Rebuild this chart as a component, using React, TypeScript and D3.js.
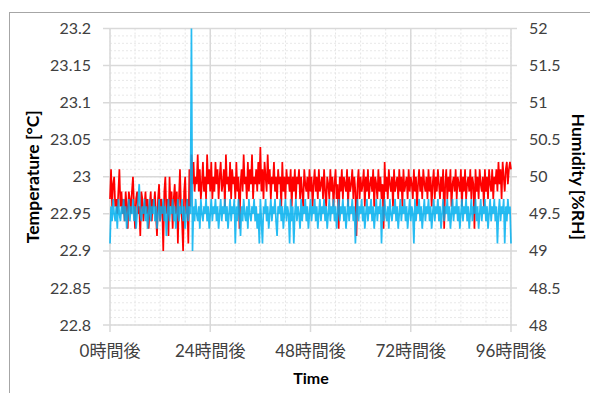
import React from "react";
import * as d3 from "d3";

// readings every 15 minutes, 0h .. 96h
const stepHours = 0.25;

const temperature = [
  22.97, 23.01, 22.96, 22.99, 23.0, 22.96, 22.97, 22.95, 22.98, 23.01, 22.96, 22.98, 22.95, 22.97, 22.94, 22.98, 22.96, 22.93, 22.98, 22.97,
  22.95, 22.98, 23.0, 22.96, 22.93, 22.97, 22.98, 22.95, 22.96, 22.92, 22.98, 22.97, 22.94, 22.96, 22.98, 22.95, 22.97, 22.93, 22.96, 22.98,
  22.94, 22.97, 22.96, 22.98, 22.95, 22.92, 22.97, 22.99, 22.94, 22.97, 22.96, 22.9, 22.98, 23.0, 22.95, 22.97, 22.92, 23.0, 22.96, 22.98,
  22.93, 22.97, 22.99, 22.95, 22.98, 22.91, 22.97, 23.01, 22.96, 22.94, 22.9, 22.98, 23.0, 22.95, 22.97, 22.91, 23.01, 22.96, 23.03, 22.99,
  23.02, 22.98, 23.0, 22.99, 23.03, 22.98, 23.01, 22.97, 22.99, 23.02, 22.98, 23.0, 22.97, 23.03, 22.99, 23.01, 22.98, 23.02, 22.97, 23.0,
  22.98, 23.02, 22.99, 23.01, 22.97, 23.0, 23.02, 22.98, 22.99, 23.01, 22.96, 23.03, 22.99, 23.0, 22.98, 23.02, 22.97, 23.01, 22.99, 23.0,
  22.97, 23.02, 22.98, 23.0, 22.93, 22.99, 23.01, 22.98, 23.03, 22.99, 23.0, 22.97, 23.02, 22.98, 23.01, 22.99, 23.03, 22.97, 23.0, 22.99,
  23.01, 22.98, 23.02, 22.99, 23.04, 22.98, 23.01, 22.97, 23.02, 23.0, 22.98, 23.03, 22.99, 23.01, 22.97, 23.0, 22.99, 23.02, 22.98, 23.0,
  22.97, 23.01, 22.99, 23.0, 22.96, 23.02, 22.98, 23.0, 22.97, 23.01, 22.99, 23.0, 22.98, 23.01, 22.96, 23.0, 22.98, 23.01, 22.97, 23.0,
  22.99, 23.01, 22.97, 23.0, 22.98, 22.96, 23.01, 22.99, 22.98, 23.0, 22.97, 23.01, 22.98, 23.0, 22.96, 22.99, 23.01, 22.98, 23.0, 22.97,
  23.01, 22.98, 22.99, 23.0, 22.97, 23.01, 22.98, 22.96, 23.0, 22.99, 22.97, 23.01, 22.98, 23.0, 22.96, 22.99, 23.01, 22.97, 22.99, 22.93,
  23.0, 22.98, 23.01, 22.97, 23.0, 22.99, 22.98, 23.01, 22.96, 23.0, 22.98, 22.99, 23.01, 22.97, 23.0, 22.98, 22.92, 22.99, 23.01, 22.97,
  23.0, 22.98, 22.99, 23.01, 22.96, 23.0, 22.98, 23.01, 22.97, 22.99, 23.0, 22.98, 23.01, 22.96, 23.0, 22.99, 22.97, 23.01, 22.98, 23.0,
  22.97, 22.99, 22.93, 23.02, 22.98, 23.0, 22.97, 23.01, 22.99, 22.98, 23.0, 22.96, 23.01, 22.98, 22.99, 23.0, 22.97, 23.01, 22.98, 23.0,
  22.96, 23.01, 22.98, 22.99, 23.0, 22.97, 23.01, 22.98, 23.0, 22.99, 22.97, 23.01, 22.98, 23.0, 22.96, 22.99, 23.01, 22.98, 23.0, 22.97,
  23.01, 22.99, 22.98, 23.0, 22.97, 23.01, 22.98, 23.0, 22.96, 22.99, 23.01, 22.97, 23.0, 22.98, 23.01, 22.99, 22.97, 23.0, 22.98, 23.01,
  22.93, 22.99, 23.01, 22.97, 23.0, 22.98, 23.01, 22.96, 22.99, 23.0, 22.98, 23.01, 22.97, 23.0, 22.99, 22.98, 23.01, 22.96, 23.0, 22.98,
  23.01, 22.97, 22.99, 23.0, 22.98, 23.01, 22.97, 23.0, 22.99, 22.93, 23.01, 22.98, 23.0, 22.97, 23.01, 22.99, 22.98, 23.0, 22.96, 23.01,
  22.98, 23.0, 22.97, 23.01, 22.99, 22.98, 23.01, 22.97, 23.0, 22.99, 23.01, 22.98, 23.02, 22.99, 23.01, 22.97, 23.02, 23.0, 22.98, 23.01,
  23.02, 22.99, 23.01, 23.02, 23.01,
];

const humidity = [
  49.1, 49.6, 49.4, 49.7, 49.5, 49.4, 49.6, 49.3, 49.7, 49.5, 49.4, 49.6, 49.5, 49.7, 49.4, 49.6, 49.3, 49.5, 49.7, 49.4,
  49.6, 49.5, 49.7, 49.4, 49.6, 49.3, 49.5, 49.7, 49.9, 49.5, 49.4, 49.6, 49.5, 49.7, 49.4, 49.6, 49.3, 49.5, 49.7, 49.4,
  49.6, 49.5, 49.7, 49.4, 49.6, 49.3, 49.5, 49.7, 49.4, 49.6, 49.5, 49.7, 49.4, 49.6, 49.2, 49.5, 49.7, 49.4, 49.6, 49.5,
  49.7, 49.4, 49.6, 49.3, 49.5, 49.7, 49.4, 49.6, 49.5, 49.7, 49.4, 49.6, 49.3, 49.5, 49.7, 49.4, 49.6, 49.5, 52.0, 49.0,
  49.6, 49.4, 49.7, 49.5, 49.4, 49.6, 49.3, 49.7, 49.5, 49.4, 49.6, 49.5, 49.7, 49.4, 49.6, 49.3, 49.5, 49.7, 49.4, 49.6,
  49.5, 49.7, 49.4, 49.6, 49.3, 49.5, 49.7, 49.4, 49.6, 49.5, 49.7, 49.4, 49.6, 49.3, 49.5, 49.7, 49.4, 49.6, 49.5, 49.7,
  49.1, 49.6, 49.4, 49.7, 49.5, 49.2, 49.6, 49.4, 49.7, 49.5, 49.4, 49.6, 49.3, 49.7, 49.5, 49.4, 49.6, 49.5, 49.7, 49.4,
  49.6, 49.3, 49.5, 49.1, 49.7, 49.4, 49.1, 49.6, 49.5, 49.7, 49.4, 49.6, 49.3, 49.5, 49.7, 49.4, 49.6, 49.5, 49.7, 49.4,
  49.2, 49.6, 49.5, 49.7, 49.4, 49.6, 49.3, 49.5, 49.7, 49.4, 49.6, 49.5, 49.1, 49.7, 49.4, 49.6, 49.1, 49.5, 49.7, 49.4,
  49.6, 49.5, 49.3, 49.7, 49.4, 49.6, 49.5, 49.7, 49.4, 49.6, 49.3, 49.5, 49.7, 49.4, 49.6, 49.5, 49.7, 49.4, 49.6, 49.3,
  49.5, 49.7, 49.4, 49.6, 49.5, 49.7, 49.4, 49.6, 49.3, 49.5, 49.7, 49.4, 49.6, 49.5, 49.7, 49.4, 49.6, 49.3, 49.5, 49.7,
  49.4, 49.6, 49.5, 49.7, 49.4, 49.6, 49.3, 49.5, 49.7, 49.4, 49.6, 49.5, 49.7, 49.4, 49.6, 49.1, 49.5, 49.7, 49.4, 49.6,
  49.5, 49.7, 49.4, 49.6, 49.3, 49.5, 49.7, 49.4, 49.6, 49.5, 49.7, 49.4, 49.6, 49.3, 49.5, 49.7, 49.4, 49.6, 49.5, 49.7,
  49.1, 49.6, 49.4, 49.7, 49.5, 49.4, 49.6, 49.3, 49.7, 49.5, 49.4, 49.6, 49.5, 49.7, 49.4, 49.6, 49.3, 49.5, 49.7, 49.4,
  49.6, 49.5, 49.7, 49.4, 49.6, 49.3, 49.5, 49.7, 49.4, 49.6, 49.5, 49.1, 49.7, 49.4, 49.6, 49.5, 49.7, 49.4, 49.6, 49.3,
  49.5, 49.7, 49.4, 49.6, 49.5, 49.7, 49.4, 49.6, 49.3, 49.5, 49.7, 49.4, 49.6, 49.5, 49.7, 49.4, 49.6, 49.3, 49.5, 49.7,
  49.4, 49.6, 49.5, 49.7, 49.4, 49.6, 49.3, 49.5, 49.7, 49.4, 49.6, 49.5, 49.7, 49.4, 49.6, 49.3, 49.5, 49.7, 49.4, 49.6,
  49.5, 49.7, 49.4, 49.6, 49.3, 49.5, 49.7, 49.4, 49.6, 49.5, 49.7, 49.4, 49.6, 49.3, 49.5, 49.7, 49.4, 49.6, 49.5, 49.7,
  49.4, 49.6, 49.3, 49.5, 49.7, 49.4, 49.6, 49.5, 49.7, 49.4, 49.6, 49.1, 49.5, 49.7, 49.4, 49.6, 49.5, 49.7, 49.1, 49.6,
  49.4, 49.7, 49.5, 49.6, 49.1,
];

const xTicks = [0, 24, 48, 72, 96];
const xTickLabels = ["0時間後", "24時間後", "48時間後", "72時間後", "96時間後"];
const tempTicks = [22.8, 22.85, 22.9, 22.95, 23, 23.05, 23.1, 23.15, 23.2];
const humTicks = [48, 48.5, 49, 49.5, 50, 50.5, 51, 51.5, 52];

const font = "Lato, 'Noto Sans CJK JP', sans-serif";
const textColor = "#404040";

const App = () => {
  const width = 590;
  const height = 393;

  const x = d3.scaleLinear().domain([0, 96]).range([110, 511]);
  const yT = d3.scaleLinear().domain([22.8, 23.2]).range([325, 28.5]);
  const yH = d3.scaleLinear().domain([48, 52]).range([325, 28.5]);

  const tempLine = d3.line<number>().x((_, i) => x(i * stepHours)).y(d => yT(d));
  const humLine = d3.line<number>().x((_, i) => x(i * stepHours)).y(d => yH(d));

  // minor grid: every 0.01 degC and every 6 hours
  const minorY = d3.range(0, 41).map(k => 22.8 + k * 0.01);
  const minorX = d3.range(0, 17).map(k => k * 6);

  return (
    <svg width={width} height={height} style={{position: "absolute", left: 0, top: 0}}>
      <rect x={0} y={0} width={width} height={height} fill="#fff"/>
      <rect x={9.5} y={12.5} width={700} height={500} fill="none" stroke="#a6a6a6"/>

      {minorY.map((v, i) => (
        <line key={"my" + i} x1={x(0)} x2={x(96)} y1={yT(v)} y2={yT(v)}
              stroke="#e8e8e8" strokeDasharray="2,2"/>
      ))}
      {minorX.map((v, i) => (
        <line key={"mx" + i} x1={x(v)} x2={x(v)} y1={yT(23.2)} y2={yT(22.8)}
              stroke="#e4e4e4" strokeDasharray="2,2"/>
      ))}
      {tempTicks.map((t, i) => (
        <line key={"gy" + i} x1={x(0) - 7} x2={x(96) + 6} y1={yT(t)} y2={yT(t)}
              stroke="#d9d9d9" strokeWidth={1.5}/>
      ))}
      {xTicks.map((t, i) => (
        <line key={"gx" + i} x1={x(t)} x2={x(t)} y1={yT(23.2)} y2={yT(22.8) + 7}
              stroke="#d9d9d9" strokeWidth={1.5}/>
      ))}

      <path d={tempLine(temperature) || ""} fill="none" stroke="#ff0000" strokeWidth={1.7} strokeLinejoin="bevel"/>
      <path d={humLine(humidity) || ""} fill="none" stroke="#00b0f0" strokeWidth={1.7} strokeOpacity={0.85} strokeLinejoin="bevel"/>

      <g fontFamily={font} fontSize={16} fill={textColor}>
        {tempTicks.map((t, i) => (
          <text key={"tl" + i} x={91} y={yT(t)} dy="0.35em" textAnchor="end">{t}</text>
        ))}
        {humTicks.map((t, i) => (
          <text key={"hl" + i} x={529} y={yH(t)} dy="0.35em">{t}</text>
        ))}
        {xTicks.map((t, i) => (
          <text key={"xl" + i} x={x(t)} y={351} dy="0.35em" textAnchor="middle" fontSize={17}>
            {xTickLabels[i]}
          </text>
        ))}
      </g>

      <g fontFamily={font} fontWeight="bold" fill="#000">
        <text x={311} y={378} dy="0.35em" textAnchor="middle" fontSize={16}>Time</text>
        <text transform={`translate(33, ${yT(23)}) rotate(-90)`} dy="0.35em" textAnchor="middle" fontSize={17.5}>
          Temperature [°C]
        </text>
        <text transform={`translate(578, ${yT(23)}) rotate(90)`} dy="0.35em" textAnchor="middle" fontSize={17.5}>
          Humidity [%RH]
        </text>
      </g>
    </svg>
  );
};

export default App;
